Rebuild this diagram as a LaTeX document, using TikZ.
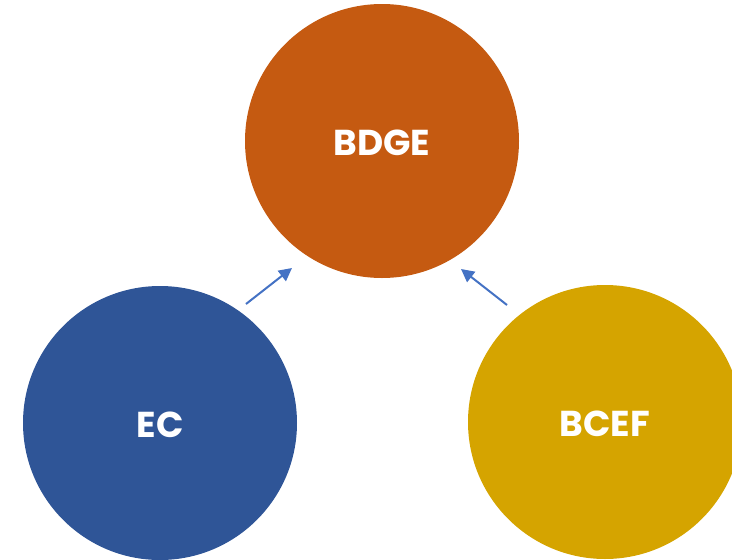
\documentclass[tikz,border=0pt]{standalone}
\usepackage{fontspec}
\setmainfont{Poppins}
\usetikzlibrary{positioning,arrows.meta}
\definecolor{orng}{HTML}{C55A11}
\definecolor{blu}{HTML}{2F5597}
\definecolor{gld}{HTML}{D5A400}
\definecolor{arr}{HTML}{4472C4}
\tikzset{
  ball/.style={circle,minimum size=274pt,inner sep=0pt,text=white,font=\fontsize{36}{36}\selectfont\bfseries,
    text height=25pt,text depth=0pt},
  link/.style={arr,line width=2pt,-{Triangle[length=13pt,width=13pt]}}
}
\begin{document}
\begin{tikzpicture}[x=1pt,y=-1pt]
    \useasboundingbox (0,0) rectangle (732,560);
    \begin{scope}
      \clip (0,0) rectangle (732,560);
      \node[ball,fill=orng](bdge)at(382,141){\raisebox{-2pt}{BDGE}};
      \node[ball,fill=blu](ec)at(160,423){\raisebox{-2pt}{EC}};
      \node[ball,fill=gld](bcef)at(605,422){\raisebox{-2pt}{BCEF}};
    \end{scope}
    \coordinate(ecout)at(246,304);
    \coordinate(ecin)at(292,268);
    \coordinate(bcefout)at(507,305);
    \coordinate(bcefin)at(461,269);
    \draw[link](ecout)--(ecin);
    \draw[link](bcefout)--(bcefin);
  \end{tikzpicture}
\end{document}
